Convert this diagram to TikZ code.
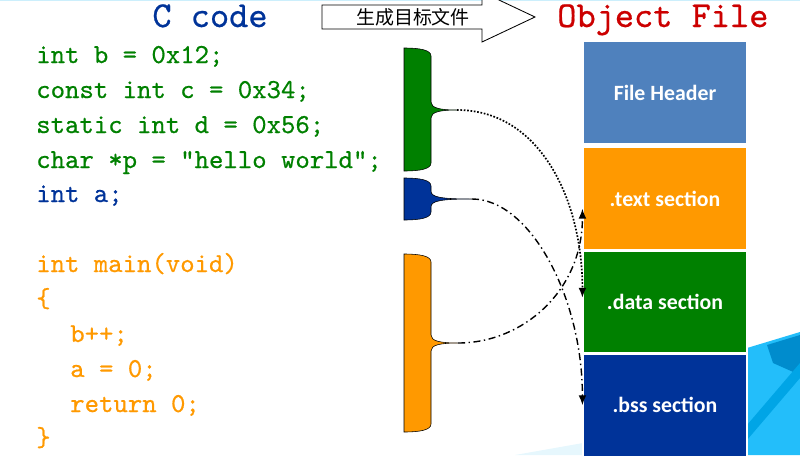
\documentclass[tikz,border=0pt]{standalone}
\usepackage{fontspec}
\usetikzlibrary{arrows.meta, positioning}
\newfontfamily\cjk{Noto Sans CJK SC}
\newfontfamily\calibri{Carlito}
\newfontfamily\codefont{lmmono10-regular.otf}[FakeBold=0.6]

\definecolor{codegreen}{RGB}{0,128,0}
\definecolor{codeblue}{RGB}{0,51,153}
\definecolor{codeorange}{RGB}{255,153,0}
\definecolor{headblue}{RGB}{79,129,189}
\definecolor{titlered}{RGB}{204,0,0}
\definecolor{skyA}{RGB}{35,190,250}
\definecolor{skyB}{RGB}{0,140,205}
\definecolor{skyC}{RGB}{0,165,230}

\tikzstyle{codeline} = [anchor=base west, inner sep=0pt, font=\codefont\fontsize{19.5}{20}\selectfont]
\tikzstyle{title} = [anchor=base, inner sep=0pt, font=\codefont\fontsize{26}{28}\selectfont]
\tikzstyle{section} = [rectangle, minimum width=4.1cm, minimum height=2.55cm, draw=white, line width=0.8pt, text=white, font=\calibri\bfseries\fontsize{15.5}{16}\selectfont]
\tikzstyle{link} = [line width=1pt, -{Latex[length=7pt,width=5.5pt]}]

% x, y in pixels of the slide
\newcommand{\halfbrace}[5]{%
  \filldraw[fill=#1, draw=black, line width=0.4pt] (404,#2) .. controls (420,#2) and (431,#2+2) .. (431,#2+8)
    -- (431,#3-8) .. controls (431,#3-2) and (440,#3) .. (#5,#3)
    .. controls (440,#3) and (431,#3+2) .. (431,#3+8)
    -- (431,#4-8) .. controls (431,#4-2) and (420,#4) .. (404,#4) -- cycle;}

\begin{document}
\begin{tikzpicture}[x=0.025cm, y=-0.025cm]
\useasboundingbox (0,0) rectangle (800,455);
\clip (0,0) rectangle (800,455);

% slide background bits
\draw[cyan!20, line width=1pt] (0,0.6) -- (800,0.6);
\fill[cyan!10] (515,455) -- (583,443) -- (583,455) -- cycle;
\fill[skyA] (747,348) -- (800,332) -- (800,455) -- (747,455) -- cycle;
\fill[skyB] (767,345) -- (800,335) -- (800,375) -- (773,363) -- cycle;
\fill[skyC] (747,425) -- (800,363) -- (800,378) -- (747,440) -- cycle;

% titles
\node[title, text=codeblue] (ccode) at (210,27) {C code};
\node[title, text=titlered, anchor=base west] (objfile) at (557,27) {Object File};
\draw[fill=white, line width=0.6pt] (322,5) -- (482,5) -- (482,-8) -- (535,17) -- (482,42) -- (482,29) -- (322,29) -- cycle;
\node[font=\cjk\fontsize{13.5}{14}\selectfont] (gen) at (413,17) {生成目标文件};

% source code
\node[codeline, text=codegreen] (lineb) at (36,63) {int b = 0x12;};
\node[codeline, text=codegreen] (linec) at (36,98) {const int c = 0x34;};
\node[codeline, text=codegreen] (lined) at (36,133) {static int d = 0x56;};
\node[codeline, text=codegreen] (linep) at (36,168) {char *p = "hello world";};
\node[codeline, text=codeblue] (linea) at (36,202) {int a;};
\node[codeline, text=codeorange] (linemain) at (36,272) {int main(void)};
\node[codeline, text=codeorange] (lopen) at (36,307) {\{};
\node[codeline, text=codeorange] (lineinc) at (70,342) {b++;};
\node[codeline, text=codeorange] (lineset) at (70,377) {a = 0;};
\node[codeline, text=codeorange] (lineret) at (70,412) {return 0;};
\node[codeline, text=codeorange] (lclose) at (36,446) {\}};

% braces
\halfbrace{codegreen}{48}{110}{171}{457}
\halfbrace{codeblue}{178}{199}{220}{472}
\halfbrace{codeorange}{254}{343}{432}{458}
\coordinate (databrace) at (457,110);
\coordinate (bssbrace) at (472,199);
\coordinate (textbrace) at (458,343);

% object file
\node[section, fill=headblue] (header) at (665,92.5) {File Header};
\node[section, fill=codeorange, below=0.08cm of header] (text) {.text section};
\node[section, fill=codegreen, below=0pt of text] (data) {.data section};
\node[section, fill=codeblue, below=0pt of data] (bss) {.bss section};

\draw[link, line width=1.2pt, dash pattern=on 1.2pt off 1.2pt] (databrace) .. controls +(83,0) and +(0,-98) .. ([yshift=3pt]data.west);
\draw[link, dash pattern=on 5pt off 2.5pt on 1pt off 2.5pt] (bssbrace) .. controls +(58,0) and +(0,-108) .. (bss.west);
\draw[link, dash pattern=on 5pt off 2.5pt on 1pt off 2.5pt] (textbrace) .. controls +(65,0) and +(0,82) .. ([yshift=-7pt]text.west);
\end{tikzpicture}
\end{document}
